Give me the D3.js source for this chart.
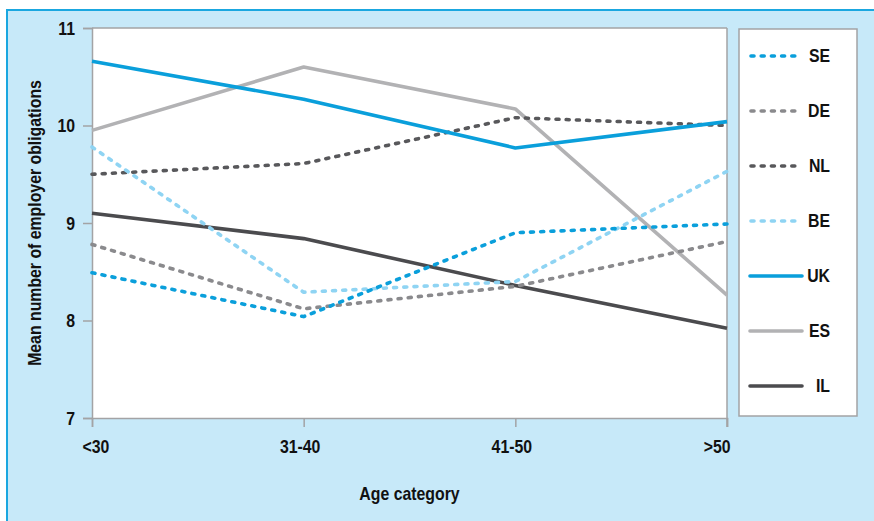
<!DOCTYPE html>
<html><head><meta charset="utf-8">
<script src="https://cdn.jsdelivr.net/npm/d3@7"></script>
<style>
body{margin:0;padding:0;background:#fff;}
svg text{font-family:"Liberation Sans",Arial,sans-serif;font-weight:bold;fill:#111;}
</style></head><body>
<svg id="c" width="874" height="521"></svg>
<script>
const categories = ["<30", "31-40", "41-50", ">50"];
const seriesNames = ["SE", "DE", "NL", "BE", "UK", "ES", "IL"];
const SE = [8.49, 8.04, 8.90, 8.99];
const DE = [8.78, 8.12, 8.35, 8.81];
const NL = [9.50, 9.61, 10.08, 10.00];
const BE = [9.78, 8.29, 8.40, 9.53];
const UK = [10.66, 10.27, 9.77, 10.04];
const ES = [9.95, 10.60, 10.17, 8.26];
const IL = [9.10, 8.84, 8.36, 7.92];
const yTicks = [7, 8, 9, 10, 11];

const seriesValues = {SE, DE, NL, BE, UK, ES, IL};
const styles = {
  SE: {color: "#0a9fdb", dotted: true},
  DE: {color: "#8a8a8d", dotted: true},
  NL: {color: "#58585b", dotted: true},
  BE: {color: "#8fd4f3", dotted: true},
  UK: {color: "#0a9fdb", dotted: false},
  ES: {color: "#b2b2b4", dotted: false},
  IL: {color: "#4b4b4e", dotted: false}
};

const svg = d3.select("#c");
const W = 874, H = 521;
const m = {left: 92, right: 727, top: 28, bottom: 418};
const axisColor = "#a3a3a5";
const fs = 18, sx = 0.88;

// condensed text helper: place a text at (px,py) squeezed horizontally
function ctext(parent, px, py, str, anchor, rot) {
  const g = parent.append("g").attr("transform", `translate(${px},${py})` + (rot ? ` rotate(${rot})` : ""));
  return g.append("text").attr("transform", `scale(${sx},1)`)
    .attr("text-anchor", anchor || "middle").attr("font-size", fs).text(str);
}

// background panel
svg.append("rect").attr("x", 7).attr("y", 10).attr("width", W + 10).attr("height", H + 10)
  .attr("fill", "#c7e9f9").attr("stroke", "#1aa7e0").attr("stroke-width", 2);

const x = d3.scalePoint().domain(categories).range([m.left, m.right]);
const y = d3.scaleLinear().domain([7, 11]).range([m.bottom, m.top]);

// plot area
svg.append("rect").attr("x", m.left).attr("y", m.top)
  .attr("width", m.right - m.left).attr("height", m.bottom - m.top).attr("fill", "#fff");

// top border
svg.append("line").attr("x1", m.left).attr("x2", m.right).attr("y1", m.top).attr("y2", m.top)
  .attr("stroke", axisColor).attr("stroke-width", 1.5);

// Y axis
const yAxis = svg.append("g").attr("transform", `translate(${m.left},0)`)
  .call(d3.axisLeft(y).tickValues(yTicks).tickSize(9).tickPadding(8).tickFormat(d3.format("d")));
yAxis.select(".domain").attr("stroke", axisColor).attr("stroke-width", 1.5);
yAxis.selectAll(".tick line").attr("stroke", axisColor).attr("stroke-width", 1.5);
yAxis.selectAll(".tick text").attr("font-size", fs).attr("font-family", null)
  .attr("dy", "0.36em").attr("x", -17 / sx).attr("transform", `scale(${sx},1)`);

// X axis
const xAxis = svg.append("g").attr("transform", `translate(0,${m.bottom})`)
  .call(d3.axisBottom(x).tickSize(9).tickPadding(0));
xAxis.select(".domain").attr("stroke", axisColor).attr("stroke-width", 1.5);
xAxis.selectAll(".tick line").attr("stroke", axisColor).attr("stroke-width", 1.5);
xAxis.selectAll(".tick text").attr("font-size", fs).attr("font-family", null)
  .attr("y", 35).attr("dy", 0).attr("transform", `scale(${sx},1)`)
  .attr("text-anchor", (d, i) => i === 0 ? "start" : (i === categories.length - 1 ? "end" : "middle"))
  .attr("dx", (d, i) => (i === 0 ? -10 : (i === categories.length - 1 ? 3 : -4)) / sx);

// right border
svg.append("line").attr("x1", m.right).attr("x2", m.right).attr("y1", m.top).attr("y2", m.bottom + 9)
  .attr("stroke", axisColor).attr("stroke-width", 1.5);

// lines
const line = d3.line().x((d, i) => x(categories[i])).y(d => y(d));
const order = ["ES", "IL", "DE", "NL", "BE", "SE", "UK"];
order.forEach(name => {
  const s = styles[name];
  svg.append("path").datum(seriesValues[name])
    .attr("d", line).attr("fill", "none")
    .attr("stroke", s.color).attr("stroke-width", 3.6)
    .attr("stroke-linecap", s.dotted ? "round" : "butt")
    .attr("stroke-linejoin", "round")
    .attr("stroke-dasharray", s.dotted ? "3,7.2" : null);
});

// axis titles
ctext(svg, (m.left + m.right) / 2, 500, "Age category", "middle");
ctext(svg, 41, (m.top + m.bottom) / 2, "Mean number of employer obligations", "middle", -90);

// legend
const lg = svg.append("g");
lg.append("rect").attr("x", 739).attr("y", 29).attr("width", 118).attr("height", 387)
  .attr("fill", "#fff").attr("stroke", axisColor).attr("stroke-width", 1.5);
const ly = d3.scalePoint().domain(seriesNames).range([56, 386]);
seriesNames.forEach(name => {
  const s = styles[name];
  const yy = ly(name);
  lg.append("line").attr("x1", s.dotted ? 751 : 750).attr("x2", s.dotted ? 798 : 802)
    .attr("y1", yy).attr("y2", yy)
    .attr("stroke", s.color).attr("stroke-width", 3.6)
    .attr("stroke-linecap", "round")
    .attr("stroke-dasharray", s.dotted ? "3,7.2" : null);
  ctext(lg, 830, yy, name, "end").attr("dy", "0.36em");
});
</script>
</body></html>
